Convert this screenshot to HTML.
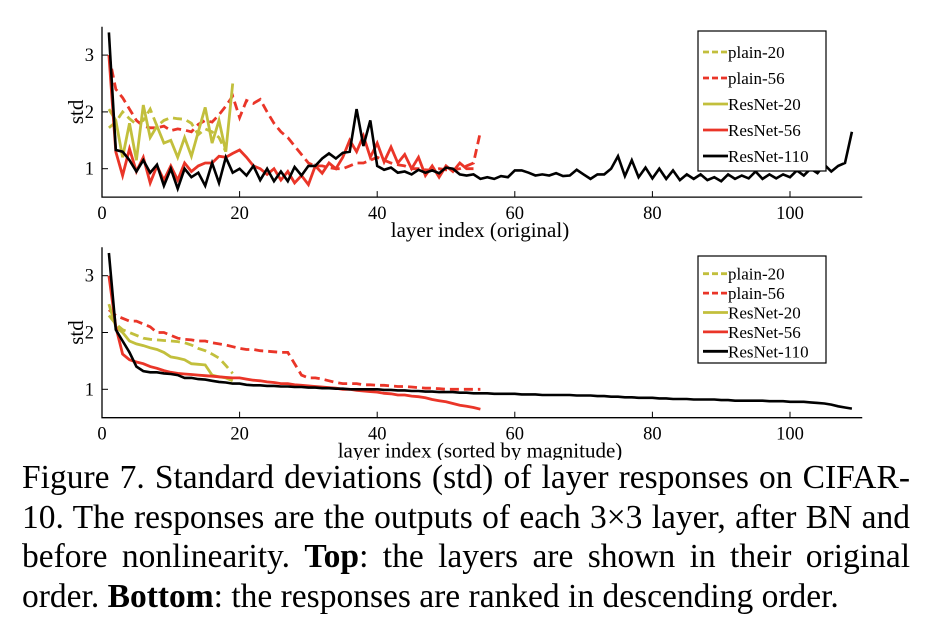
<!DOCTYPE html>
<html><head><meta charset="utf-8"><style>
html,body{margin:0;padding:0;background:#fff;}
#wrap{position:relative;width:928px;height:642px;overflow:hidden;}
svg{position:absolute;left:0;top:0;}
text{font-family:"Liberation Serif",serif;}
#cap{position:absolute;left:22px;top:458px;width:888px;font-family:"Liberation Serif",serif;font-size:33.5px;line-height:39.5px;color:#000;}
#cap div{text-align:justify;text-align-last:justify;white-space:nowrap;}
#cap div.last{text-align-last:left;}
</style></head><body>
<div id="wrap">
<svg id="chart" width="928" height="460"></svg>
<div id="cap">
<div>Figure 7. Standard deviations (std) of layer responses on CIFAR-</div>
<div>10. The responses are the outputs of each 3×3 layer, after BN and</div>
<div>before nonlinearity. <b>Top</b>: the layers are shown in their original</div>
<div class="last">order. <b>Bottom</b>: the responses are ranked in descending order.</div>
</div>
</div>
<script>
const seriesNames = ["plain-20","plain-56","ResNet-20","ResNet-56","ResNet-110"];
const xTicks = [0,20,40,60,80,100];
const yTicks = [1,2,3];
// Top: original order
const topPlain20 = [1.72,1.82,2.0,1.88,1.78,1.85,2.05,1.75,1.85,1.9,1.88,1.87,1.8,1.6,1.7,1.65,1.55,1.3];
const topPlain56 = [3.0,2.4,2.25,2.05,1.85,1.75,1.72,1.72,1.75,1.67,1.7,1.68,1.65,1.78,1.85,1.82,1.95,2.1,2.28,1.9,2.2,2.15,2.22,2.0,1.8,1.65,1.55,1.4,1.25,1.1,1.05,1.05,1.02,1.0,1.0,1.05,1.1,1.1,1.15,1.2,1.15,1.1,1.07,1.05,1.0,1.0,0.98,0.97,1.0,0.98,0.98,1.0,1.05,1.1,1.65];
const topRes20 = [2.05,1.85,1.2,1.8,1.15,2.12,1.55,1.75,1.45,1.5,1.2,1.55,1.22,1.65,2.08,1.45,1.85,1.3,2.5];
const topRes56 = [3.0,1.3,0.88,1.35,0.95,1.2,0.75,1.05,0.8,1.05,0.8,1.1,0.95,1.05,1.1,1.1,1.22,1.2,1.27,1.33,1.2,1.05,1.0,0.9,1.0,0.8,0.95,0.75,0.88,0.72,1.05,0.92,1.1,1.0,1.2,1.5,1.3,1.58,1.2,1.45,1.12,1.38,1.1,1.25,1.0,1.2,0.88,1.05,0.85,1.05,0.95,1.1,1.0,1.0];
const topRes110 = [3.4,1.33,1.3,1.15,0.95,1.15,0.93,1.07,0.7,1.0,0.65,1.0,0.85,0.93,0.7,1.1,0.75,1.2,0.93,1.0,0.88,1.05,0.8,1.0,0.78,0.95,0.78,1.03,0.88,1.05,1.05,1.18,1.27,1.18,1.28,1.3,2.05,1.4,1.85,1.05,0.98,1.02,0.93,0.95,0.9,0.98,0.93,0.97,0.92,1.02,1.0,0.9,0.88,0.9,0.82,0.85,0.82,0.87,0.85,0.97,0.97,0.93,0.88,0.9,0.88,0.92,0.87,0.88,0.98,0.9,0.82,0.9,0.9,1.0,1.22,0.87,1.15,0.85,1.02,0.83,1.0,0.82,0.97,0.8,0.9,0.82,0.9,0.8,0.85,0.78,0.9,0.82,0.88,0.83,0.95,0.82,0.9,0.83,0.9,0.85,0.97,0.88,1.0,0.92,1.07,0.95,1.05,1.1,1.65];
// Bottom: sorted
const botPlain20 = [2.3,2.15,2.05,2.0,1.95,1.9,1.88,1.87,1.86,1.85,1.84,1.82,1.78,1.72,1.68,1.62,1.55,1.42,1.28];
const botPlain56 = [2.4,2.3,2.25,2.2,2.2,2.15,2.1,2.0,2.0,1.95,1.9,1.88,1.87,1.85,1.85,1.82,1.8,1.78,1.75,1.72,1.7,1.7,1.68,1.67,1.66,1.65,1.65,1.45,1.25,1.2,1.2,1.18,1.15,1.12,1.1,1.1,1.1,1.08,1.08,1.07,1.07,1.06,1.05,1.05,1.04,1.03,1.02,1.02,1.01,1.0,1.0,1.0,1.0,1.0,1.0];
const botRes20 = [2.5,2.1,2.0,1.85,1.8,1.77,1.73,1.7,1.65,1.57,1.55,1.52,1.45,1.44,1.43,1.25,1.22,1.2,1.15];
const botRes56 = [3.0,2.1,1.62,1.52,1.48,1.45,1.4,1.37,1.33,1.3,1.28,1.27,1.26,1.25,1.24,1.23,1.22,1.21,1.2,1.2,1.18,1.16,1.15,1.13,1.12,1.1,1.1,1.08,1.07,1.06,1.05,1.04,1.03,1.02,1.0,1.0,0.98,0.97,0.96,0.95,0.93,0.92,0.9,0.9,0.88,0.87,0.85,0.82,0.8,0.78,0.75,0.72,0.7,0.68,0.65];
const botRes110 = [3.4,2.05,1.85,1.65,1.4,1.32,1.3,1.3,1.28,1.27,1.25,1.2,1.2,1.18,1.17,1.15,1.13,1.12,1.1,1.1,1.08,1.07,1.07,1.06,1.06,1.05,1.05,1.04,1.04,1.03,1.03,1.02,1.02,1.01,1.01,1.0,1.0,1.0,1.0,1.0,0.99,0.99,0.98,0.98,0.97,0.97,0.96,0.96,0.95,0.95,0.95,0.94,0.94,0.93,0.93,0.93,0.92,0.92,0.92,0.92,0.91,0.91,0.91,0.9,0.9,0.9,0.9,0.9,0.89,0.89,0.89,0.88,0.88,0.87,0.87,0.86,0.86,0.85,0.85,0.85,0.84,0.84,0.83,0.83,0.83,0.82,0.82,0.82,0.82,0.81,0.81,0.8,0.8,0.8,0.8,0.8,0.79,0.79,0.79,0.78,0.78,0.78,0.77,0.76,0.75,0.73,0.7,0.68,0.66];

const NS="http://www.w3.org/2000/svg";
const svg=document.getElementById('chart');
const colors={"plain-20":"#c2bf3c","plain-56":"#ea3528","ResNet-20":"#c2bf3c","ResNet-56":"#ea3528","ResNet-110":"#000"};
const dashed={"plain-20":true,"plain-56":true};
function mk(tag,attrs,parent){const e=document.createElementNS(NS,tag);for(const k in attrs)e.setAttribute(k,attrs[k]);(parent||svg).appendChild(e);return e;}
function panel(top,xLabel,data,legTop,pname){
  const g=mk('g',{});
  
  
  const x0=102,pxX=6.88,y1=top,pxY=56.8;
  const sx=v=>x0+v*pxX, sy=v=>y1-(v-1)*pxY;
  const yTop=sy(3.5), yBot=sy(0.5), xR=sx(110.5);
  const ax=mk('path',{d:`M${x0} ${yTop}V${yBot}H${xR}`,stroke:'#000','stroke-width':1.3,fill:'none'},g);
  
  
  xTicks.forEach(t=>{
    mk('line',{x1:sx(t),x2:sx(t),y1:yBot,y2:yBot-6,stroke:'#000','stroke-width':1},g);
    const tx=mk('text',{x:sx(t),y:yBot+22,'text-anchor':'middle','font-size':18.5},g);tx.textContent=t;
    
    
  });
  yTicks.forEach(t=>{
    mk('line',{x1:x0,x2:x0+6,y1:sy(t),y2:sy(t),stroke:'#000','stroke-width':1},g);
    const tx=mk('text',{x:x0-8,y:sy(t)+6,'text-anchor':'end','font-size':18.5},g);tx.textContent=t;
    
    
  });
  const yl=mk('text',{x:0,y:0,'font-size':21,'text-anchor':'middle',transform:`translate(83 ${sy(2)}) rotate(-90)`},g);yl.textContent='std';
  
  
  const xl=mk('text',{x:480,y:yBot+40,'font-size':21,'text-anchor':'middle'},g);xl.textContent=xLabel;
  
  
  seriesNames.forEach((n,i)=>{
    const vals=data[i];
    const d=vals.map((v,j)=>(j?'L':'M')+sx(j+1).toFixed(1)+' '+sy(v).toFixed(1)).join('');
    const p=mk('path',{d:d,stroke:colors[n],'stroke-width':n==='ResNet-110'?2.6:2.8,fill:'none','stroke-linejoin':'miter','stroke-dasharray':dashed[n]?'9 5':'none'},g);
    
    
  });
  const lg=mk('g',{},g);
  
  
  const lh=legTop.h, step=(lh-10)/5;
  mk('rect',{x:698,y:legTop.y,width:128,height:lh,fill:'#fff',stroke:'#000','stroke-width':1.2},lg);
  seriesNames.forEach((n,i)=>{
    const cy=legTop.y+8+step*(i+0.5);
    mk('line',{x1:703,x2:728,y1:cy,y2:cy,stroke:colors[n],'stroke-width':2.8,'stroke-dasharray':dashed[n]?'6 3':'none'},lg);
    const t=mk('text',{x:728,y:cy+6,'font-size':17},lg);t.textContent=n;
    
    
  });
}
panel(168.7,'layer index (original)',[topPlain20,topPlain56,topRes20,topRes56,topRes110],{y:31,h:140},'top-chart');
panel(389.3,'layer index (sorted by magnitude)',[botPlain20,botPlain56,botRes20,botRes56,botRes110],{y:256,h:107},'bottom-chart');
</script>
</body></html>
